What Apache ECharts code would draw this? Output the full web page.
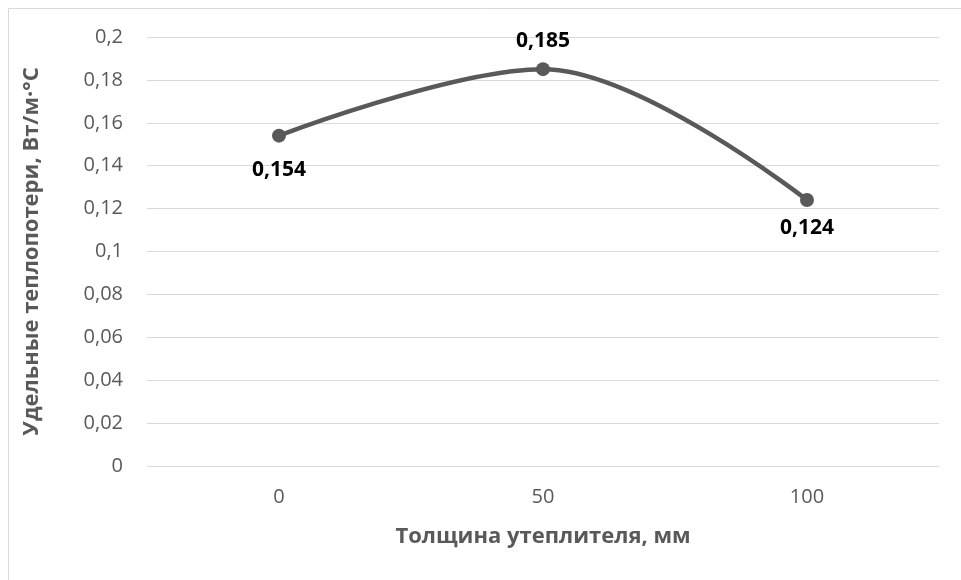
<!DOCTYPE html>
<html><head><meta charset="utf-8">
<script src="https://cdn.jsdelivr.net/npm/echarts@6/dist/echarts.min.js"></script>
<style>html,body{margin:0;padding:0;background:#fff}#c{width:961px;height:580px}</style>
</head><body><div id="c"></div>
<script>
const categories = ['0', '50', '100'];
const values = [0.154, 0.185, 0.124];
const labelPositions = ['bottom', 'top', 'bottom'];
const labelDistances = [17, 11, 10];
const yTicks = {min: 0, max: 0.2, interval: 0.02};

const fmt = v => String(+v.toFixed(3)).replace('.', ',');
const chart = echarts.init(document.getElementById('c'));
const font = '"Open Sans", "Noto Sans", sans-serif';
chart.setOption({
  animation: false,
  backgroundColor: '#fff',
  graphic: [{type: 'rect', shape: {x: 8.5, y: 8.5, width: 1000, height: 1000}, style: {fill: 'none', stroke: '#d9d9d9', lineWidth: 1}, silent: true}],
  grid: {left: 147, right: 22, top: 37, bottom: 114},
  xAxis: {
    type: 'category', data: categories, boundaryGap: true,
    name: 'Толщина утеплителя, мм', nameLocation: 'middle', nameGap: 60,
    nameTextStyle: {fontFamily: font, fontWeight: 'bold', fontSize: 22, color: '#595959'},
    axisLine: {show: false}, axisTick: {show: false},
    axisLabel: {fontFamily: font, fontSize: 20, color: '#595959', margin: 21}
  },
  yAxis: {
    type: 'value', min: yTicks.min, max: yTicks.max, interval: yTicks.interval,
    name: 'Удельные теплопотери, Вт/м·°С', nameLocation: 'middle', nameGap: 104,
    nameTextStyle: {fontFamily: font, fontWeight: 'bold', fontSize: 22, color: '#595959'},
    axisLine: {show: false}, axisTick: {show: false},
    splitLine: {lineStyle: {color: '#d9d9d9', width: 1}},
    axisLabel: {fontFamily: font, fontSize: 20, color: '#595959', margin: 24, formatter: fmt}
  },
  series: [{
    type: 'line', smooth: 0.35,
    data: values.map((v, i) => ({value: v, label: {position: labelPositions[i], distance: labelDistances[i]}})),
    symbol: 'circle', symbolSize: 14,
    lineStyle: {color: '#595959', width: 4.5},
    itemStyle: {color: '#595959'},
    label: {show: true, fontFamily: font, fontWeight: 'bold', fontSize: 21, color: '#000', formatter: p => fmt(p.value)}
  }]
});
</script></body></html>
